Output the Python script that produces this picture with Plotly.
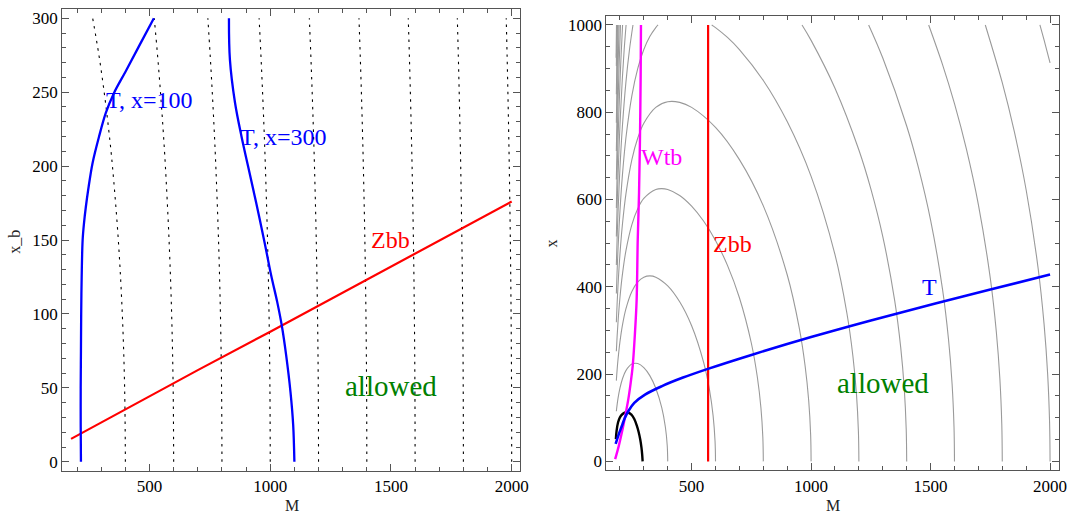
import plotly.graph_objects as go

# ---------------- Left panel data (M vs x_b) ----------------
dot_xb = [0, 50, 100, 150, 200, 225, 250, 275, 300]
dot_400 = [400, 396.9, 387.3, 370.8, 346.4, 330.7, 312.2, 290.5, 264.6]
dot_600 = [600, 597.9, 591.6, 580.9, 565.7, 556.2, 545.4, 533.3, 519.6]
dot_800 = [800, 798.4, 793.7, 785.8, 774.6, 767.7, 759.9, 751.2, 741.6]
dot_1000 = [1000, 998.7, 995.0, 988.7, 979.8, 974.4, 968.2, 961.4, 953.9]
dot_1200 = [1200, 1199.0, 1195.8, 1190.6, 1183.2, 1178.7, 1173.7, 1168.1, 1161.9]
dot_1400 = [1400, 1399.1, 1396.4, 1391.9, 1385.6, 1381.8, 1377.5, 1372.7, 1367.5]
dot_1600 = [1600, 1599.2, 1596.9, 1593.0, 1587.5, 1584.1, 1580.3, 1576.2, 1571.6]
dot_1800 = [1800, 1799.3, 1797.2, 1793.7, 1788.9, 1785.9, 1782.6, 1778.9, 1774.8]
dot_2000 = [2000, 1999.4, 1997.5, 1994.4, 1990.0, 1987.3, 1984.3, 1981.0, 1977.4]
dotted_lines = [dot_400, dot_600, dot_800, dot_1000, dot_1200,
                dot_1400, dot_1600, dot_1800, dot_2000]

t100_M = [216, 215, 215, 216, 217, 219, 223, 229, 236, 246, 264, 291, 319, 353, 401, 456, 518]
t100_xb = [0, 25, 50, 75, 100, 125, 150, 162, 172, 184, 202, 220, 236, 249.5, 264, 281, 300]

t300_M = [829, 833, 854, 881, 908, 942, 977, 1004, 1029, 1048, 1066, 1084, 1095, 1100]
t300_xb = [300, 272, 243, 220, 200, 175, 148, 126, 108, 92, 72, 47, 25, 0]

zbb_left_M = [175, 400, 700, 1000, 1300, 1600, 2000]
zbb_left_xb = [15.5, 35.5, 62, 88, 114.5, 141, 176]

# ---------------- Right panel data (M vs x) ----------------
g400_M = [185, 188, 192, 200, 210, 225, 250, 275, 300, 325, 350, 375, 390, 398, 400]
g400_x = [115.0, 129.0, 144.4, 167.7, 188.2, 207.9, 223.0, 224.1, 214.9, 196.5, 167.7, 123.1, 79.4, 35.9, 0]
g600_M = [185, 188, 192, 200, 210, 225, 250, 275, 300, 325, 350, 400, 450, 500, 550, 575, 590, 598, 600]
g600_x = [185.1, 208.2, 233.9, 273.9, 310.7, 349.6, 389.5, 411.4, 422.0, 425.0, 422.1, 402.1, 365.6, 310.7, 227.3, 163.3, 104.2, 46.8, 0]
g800_M = [185, 188, 192, 200, 210, 225, 250, 275, 300, 350, 375, 400, 450, 500, 550, 600, 650, 700, 750, 775, 790, 798, 800]
g800_x = [252.4, 284.1, 319.5, 375.0, 426.7, 482.5, 542.7, 579.5, 602.4, 623.0, 625.0, 623.0, 609.4, 585.0, 550.8, 506.1, 449.1, 375.0, 270.7, 193.3, 123.0, 55.2, 0]
g1000_M = [185, 188, 192, 200, 210, 225, 250, 275, 300, 350, 400, 450, 500, 600, 700, 800, 900, 950, 975, 990, 998, 1000]
g1000_x = [318.7, 358.9, 403.7, 474.3, 540.4, 612.4, 691.5, 741.6, 774.8, 811.2, 824.1, 822.7, 811.2, 765.2, 691.5, 585.5, 427.6, 306.9, 218.6, 138.8, 62.2, 0]
g1200a_M = [185, 188, 192, 200, 210, 225, 250, 275, 300, 325, 350, 359.5]
g1200a_x = [384.5, 433.1, 487.3, 572.8, 653.1, 740.9, 838.2, 901.0, 943.7, 973.4, 994.0, 1000]
g1200b_M = [584, 600, 650, 700, 800, 900, 1000, 1100, 1150, 1175, 1190, 1198, 1200]
g1200b_x = [1000, 994.0, 971.5, 943.7, 872.8, 778.6, 653.1, 473.5, 338.8, 241.0, 152.9, 68.5, 0]
g1400a_M = [185, 188, 192, 200, 210, 225, 240, 254.6]
g1400a_x = [450.1, 506.9, 570.5, 670.8, 765.1, 868.5, 943.9, 1000]
g1400b_M = [962, 1000, 1100, 1200, 1250, 1300, 1350, 1375, 1390, 1398, 1400]
g1400b_x = [1000, 964.7, 855.0, 713.4, 624.3, 514.9, 367.7, 261.2, 165.7, 74.2, 0]
g1600a_M = [185, 188, 192, 200, 210, 218, 225.7]
g1600a_x = [515.4, 580.6, 653.5, 768.5, 876.8, 945.2, 1000]
g1600b_M = [1240.8, 1300, 1400, 1450, 1500, 1550, 1575, 1590, 1598, 1600]
g1600b_x = [1000, 924.2, 768.5, 671.4, 553.0, 394.3, 280.0, 177.5, 79.5, 0]
g1800a_M = [185, 188, 192, 200, 205, 211.1]
g1800a_x = [580.7, 654.1, 736.3, 866.0, 931.4, 1000]
g1800b_M = [1492, 1550, 1600, 1650, 1700, 1750, 1775, 1790, 1798, 1800]
g1800b_x = [1000, 909.3, 819.7, 715.3, 588.5, 419.2, 297.5, 188.6, 84.4, 0]
g2000a_M = [185, 188, 192, 197, 202.4]
g2000a_x = [645.9, 727.6, 819.0, 914.0, 1000]
g2000b_M = [1729, 1800, 1850, 1900, 1950, 1975, 1990, 1998, 2000]
g2000b_x = [1000, 867.7, 756.5, 621.8, 442.6, 314.0, 199.0, 89.1, 0]
g2200a_M = [185, 188, 192, 196.7]
g2200a_x = [711.0, 800.9, 901.6, 1000]
g2200b_M = [1957.5, 1980, 2000]
g2200b_x = [1000, 955.2, 913.0]
g2400_M = [185, 188, 190, 192.6]
g2400_x = [776.1, 874.3, 931.7, 1000]
g2600_M = [185, 188, 189.7]
g2600_x = [841.1, 947.6, 1000]
g2800_M = [185, 187.4]
g2800_x = [906.1, 1000]
g3000_M = [184, 185, 185.65]
g3000_x = [925.0, 971.1, 1000]

grey_curves = [(g400_M, g400_x), (g600_M, g600_x), (g800_M, g800_x), (g1000_M, g1000_x),
               (g1200a_M, g1200a_x), (g1200b_M, g1200b_x), (g1400a_M, g1400a_x), (g1400b_M, g1400b_x),
               (g1600a_M, g1600a_x), (g1600b_M, g1600b_x), (g1800a_M, g1800a_x), (g1800b_M, g1800b_x),
               (g2000a_M, g2000a_x), (g2000b_M, g2000b_x), (g2200a_M, g2200a_x), (g2200b_M, g2200b_x),
               (g2400_M, g2400_x), (g2600_M, g2600_x), (g2800_M, g2800_x), (g3000_M, g3000_x)]

black_M = [183, 186, 192, 200, 210, 222, 235, 248, 260, 270, 278, 285, 290, 293, 295]
black_x = [51, 70, 89, 101, 108, 112, 112, 107, 97, 83, 68, 50, 32, 16, 0]

wtb_M = [180, 195, 208, 222, 235, 245, 253.5, 263, 270, 274.5, 280, 284, 286.7, 288]
wtb_x = [5, 35, 66, 104, 142, 180, 219, 295, 371, 508, 615, 745, 882, 1000]

zbb_right_M = [569, 569]
zbb_right_x = [0, 1000]

t_right_M = [182, 195, 208, 220, 235, 260, 305, 374, 464, 568, 750, 1000, 1250, 1500, 1750, 2000]
t_right_x = [40, 62, 81, 99, 115, 134, 153, 172, 192, 212, 244, 285, 323, 359, 394, 428]

SERIF = "Liberation Serif"
FRAME = "#555555"
BLUE, RED, MAGENTA, GREEN = "#0000ff", "#ff0000", "#ff00ff", "#008000"

fig = go.Figure()

# Left panel
for ml in dotted_lines:
    fig.add_trace(go.Scatter(x=ml, y=dot_xb, mode="lines", xaxis="x", yaxis="y",
                             line=dict(color="black", width=1.1, dash="2.5px,5px", shape="spline"),
                             hoverinfo="skip"))
fig.add_trace(go.Scatter(x=zbb_left_M, y=zbb_left_xb, mode="lines", xaxis="x", yaxis="y",
                         line=dict(color=RED, width=2.2)))
fig.add_trace(go.Scatter(x=t100_M, y=t100_xb, mode="lines", xaxis="x", yaxis="y",
                         line=dict(color=BLUE, width=2.3, shape="spline")))
fig.add_trace(go.Scatter(x=t300_M, y=t300_xb, mode="lines", xaxis="x", yaxis="y",
                         line=dict(color=BLUE, width=2.3, shape="spline")))

# Right panel
for cm, cx in grey_curves:
    fig.add_trace(go.Scatter(x=cm, y=cx, mode="lines", xaxis="x2", yaxis="y2",
                             line=dict(color="#9a9a9a", width=1.1, shape="spline"),
                             hoverinfo="skip"))
fig.add_trace(go.Scatter(x=black_M, y=black_x, mode="lines", xaxis="x2", yaxis="y2",
                         line=dict(color="black", width=2.4, shape="spline")))
fig.add_trace(go.Scatter(x=wtb_M, y=wtb_x, mode="lines", xaxis="x2", yaxis="y2",
                         line=dict(color=MAGENTA, width=2.4, shape="spline")))
fig.add_trace(go.Scatter(x=zbb_right_M, y=zbb_right_x, mode="lines", xaxis="x2", yaxis="y2",
                         line=dict(color=RED, width=2.2)))
fig.add_trace(go.Scatter(x=t_right_M, y=t_right_x, mode="lines", xaxis="x2", yaxis="y2",
                         line=dict(color=BLUE, width=2.6, shape="spline")))

tickfont = dict(family=SERIF, size=17, color="black")


def axis(domain, rng, dtick, minor_dtick, anchor):
    return dict(domain=domain, range=rng, dtick=dtick, tick0=0, anchor=anchor,
                showline=True, linecolor=FRAME, linewidth=1, mirror="allticks",
                ticks="inside", ticklen=7, tickwidth=1, tickcolor=FRAME,
                showgrid=False, zeroline=False, tickfont=tickfont,
                minor=dict(ticks="inside", ticklen=4, tickwidth=1, tickcolor=FRAME,
                           dtick=minor_dtick, tick0=0, showgrid=False))


ann = []
def label(text, x, y, xref, yref, color, size=24):
    ann.append(dict(text=text, x=x, y=y, xref=xref, yref=yref, showarrow=False,
                    font=dict(family=SERIF, size=size, color=color),
                    xanchor="center", yanchor="middle"))

label("T, x=100", 498, 245, "x", "y", BLUE)
label("T, x=300", 1052, 219.5, "x", "y", BLUE)
label("Zbb", 1498, 150, "x", "y", RED)
label("allowed", 1502, 51.5, "x", "y", GREEN, 29)
label("Wtb", 374, 698, "x2", "y2", MAGENTA)
label("Zbb", 670, 497, "x2", "y2", RED)
label("T", 1497, 399, "x2", "y2", BLUE)
label("allowed", 1300, 179, "x2", "y2", GREEN, 29)

titlefont = dict(family=SERIF, size=16, color="#222222")
ann.append(dict(text="M", x=293.8 / 1075, y=1 - 506 / 515, xref="paper", yref="paper",
                showarrow=False, font=titlefont, xanchor="center", yanchor="middle"))
ann.append(dict(text="M", x=839 / 1075, y=1 - 506 / 515, xref="paper", yref="paper",
                showarrow=False, font=titlefont, xanchor="center", yanchor="middle"))
ann.append(dict(text="x_b", x=14.6 / 1075, y=1 - 241.7 / 515, xref="paper", yref="paper",
                showarrow=False, font=titlefont, xanchor="center", yanchor="middle", textangle=-90))
ann.append(dict(text="x", x=556 / 1075, y=1 - 244 / 515, xref="paper", yref="paper",
                showarrow=False, font=titlefont, xanchor="center", yanchor="middle", textangle=-90))

fig.update_layout(
    width=1075, height=515, margin=dict(l=0, r=0, t=0, b=0),
    paper_bgcolor="white", plot_bgcolor="white", showlegend=False,
    xaxis=axis([62.7 / 1075, 524.4 / 1075], [138.5, 2036.5], 500, 100, "y"),
    yaxis=axis([1 - 471.6 / 515, 1 - 9.4 / 515], [-6, 306], 50, 10, "x"),
    xaxis2=axis([611 / 1075, 1066.7 / 1075], [143.6, 2036.4], 500, 100, "y2"),
    yaxis2=axis([1 - 471.2 / 515, 1 - 16.1 / 515], [-20.4, 1020.4], 200, 50, "x2"),
    annotations=ann,
)

fig.write_html("out.html")
